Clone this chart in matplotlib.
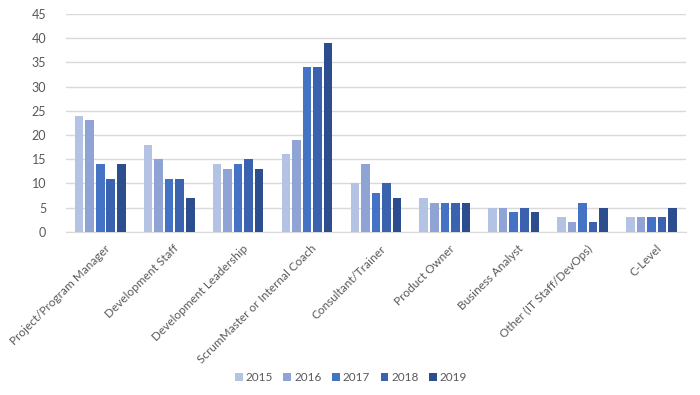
import numpy as np
import matplotlib
matplotlib.use("Agg")
import matplotlib.pyplot as plt

plt.rcParams['font.family'] = ['Lato', 'DejaVu Sans']

roles = ["Project/Program Manager", "Development Staff", "Development Leadership",
         "ScrumMaster or Internal Coach", "Consultant/Trainer", "Product Owner",
         "Business Analyst", "Other (IT Staff/DevOps)", "C-Level"]
years = ["2015", "2016", "2017", "2018", "2019"]
v2015 = [24, 18, 14, 16, 10, 7, 5, 3, 3]
v2016 = [23, 15, 13, 19, 14, 6, 5, 2, 3]
v2017 = [14, 11, 14, 34, 8, 6, 4, 6, 3]
v2018 = [11, 11, 15, 34, 10, 6, 5, 2, 3]
v2019 = [14, 7, 13, 39, 7, 6, 4, 5, 5]
colors = ["#b4c2e4", "#8fa4d5", "#4472c4", "#3a62ae", "#2c4d8e"]

series = [v2015, v2016, v2017, v2018, v2019]

fig = plt.figure(figsize=(7, 3.95), dpi=100)
ax = fig.add_axes([0.094, 0.413, 0.886, 0.552])

x = np.arange(len(roles))
step = 0.153
w = 0.125
for i, (vals, yr, c) in enumerate(zip(series, years, colors)):
    ax.bar(x + (i - 2) * step, vals, width=w, color=c, label=yr, zorder=3)

ax.set_xlim(-0.5, len(roles) - 0.5)
ax.set_ylim(0, 45)
ax.set_yticks(range(0, 46, 5))
ax.grid(axis='y', color='#d9d9d9', linewidth=1, zorder=0)
for s in ['top', 'right', 'left']:
    ax.spines[s].set_visible(False)
ax.spines['bottom'].set_color('#d9d9d9')
ax.tick_params(axis='both', length=0, colors='#595959', labelsize=8.5)
ax.tick_params(axis='y', pad=14, labelsize=9)
ax.tick_params(axis='x', pad=8)
ax.set_xticks(x + 0.06)
ax.set_xticklabels(roles, rotation=45, ha='right', rotation_mode='anchor')

ax.legend(loc='upper center', bbox_to_anchor=(0.46, -0.595), ncol=5, frameon=False,
          fontsize=8.5, handlelength=0.65, handleheight=0.65, handletextpad=0.25,
          columnspacing=0.9, labelcolor='#595959')

fig.savefig("out.png", dpi=100)
